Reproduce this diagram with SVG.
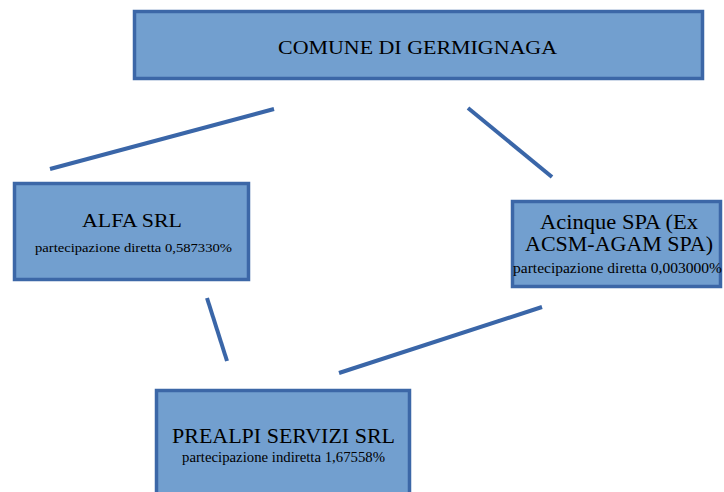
<svg xmlns="http://www.w3.org/2000/svg" width="724" height="492" viewBox="0 0 724 492">
<style>
.box{fill:#729fcf;stroke:#3c67a7;stroke-width:3.5}
.t{font-family:"Liberation Serif","Times New Roman",serif;fill:#000;text-anchor:middle}
.conn line{stroke:#3a66a8;stroke-width:4;stroke-linecap:butt}
</style>
<rect width="724" height="492" fill="#fff"/>
<g class="conn" id="connectors">
<line x1="50" y1="169" x2="274" y2="109"/>
<line x1="468" y1="108" x2="552" y2="177"/>
<line x1="207" y1="298" x2="227" y2="361"/>
<line x1="542" y1="307" x2="339" y2="373"/>
</g>
<g id="comune">
<rect class="box" x="134.5" y="11.5" width="568" height="67"/>
<text class="t" x="417.5" y="54" font-size="19.5" textLength="279" lengthAdjust="spacingAndGlyphs">COMUNE DI GERMIGNAGA</text>
</g>
<g id="alfa">
<rect class="box" x="14.5" y="183.5" width="234" height="96"/>
<text class="t" x="132" y="227" font-size="18" textLength="100" lengthAdjust="spacingAndGlyphs">ALFA SRL</text>
<text class="t" x="133.5" y="252" font-size="13.5" textLength="197" lengthAdjust="spacingAndGlyphs">partecipazione diretta 0,587330%</text>
</g>
<g id="acinque">
<rect class="box" x="512.5" y="201.5" width="208" height="85"/>
<text class="t" x="619" y="229" font-size="20" textLength="158" lengthAdjust="spacingAndGlyphs">Acinque SPA (Ex</text>
<text class="t" x="619" y="251" font-size="20" textLength="188" lengthAdjust="spacingAndGlyphs">ACSM-AGAM SPA)</text>
<text class="t" x="617.5" y="273" font-size="14" textLength="209" lengthAdjust="spacingAndGlyphs">partecipazione diretta 0,003000%</text>
</g>
<g id="prealpi">
<rect class="box" x="156.5" y="390.5" width="253" height="110"/>
<text class="t" x="283.5" y="443" font-size="21" textLength="223" lengthAdjust="spacingAndGlyphs">PREALPI SERVIZI SRL</text>
<text class="t" x="283.5" y="462" font-size="14" textLength="203" lengthAdjust="spacingAndGlyphs">partecipazione indiretta 1,67558%</text>
</g>
</svg>
